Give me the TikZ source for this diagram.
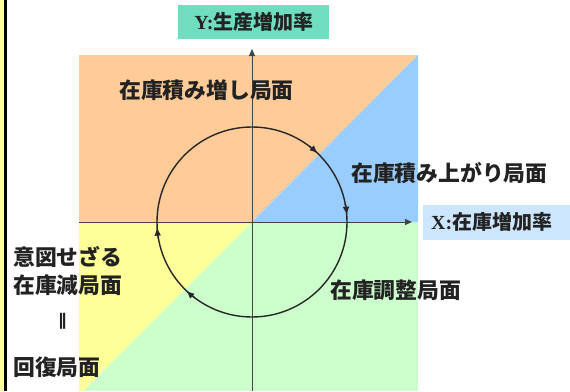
\documentclass[tikz,border=0pt]{standalone}
\usepackage{fontspec}
\setmainfont{Liberation Serif}
\newfontfamily\jp{Noto Sans CJK JP}
\newfontfamily\dv{DejaVu Sans}
\usetikzlibrary{arrows.meta}
\definecolor{qorange}{HTML}{FFCC99}
\definecolor{qblue}{HTML}{99CCFF}
\definecolor{qgreen}{HTML}{CCFFCC}
\definecolor{qyellow}{HTML}{FFFF99}
\definecolor{ylab}{HTML}{6FDDC0}
\definecolor{xlab}{HTML}{CCE6FF}
\definecolor{axisc}{HTML}{444444}
\definecolor{txt}{HTML}{222222}
\tikzset{
  lbl/.style={font=\jp\bfseries\fontsize{21.8}{24}\selectfont, text=txt, inner sep=0pt, anchor=west},
  axislabel/.style={font=\bfseries\fontsize{20}{22}\selectfont, text=txt, inner sep=0pt},
  axisline/.style={draw=axisc, line width=1pt, -{Triangle[length=7pt,width=6pt]}},
  cyc/.style={draw=black!85, line width=1.4pt},
  cycarrow/.style={-{Triangle[length=7pt,width=6pt]}, draw=black!85, line width=1.4pt}
}
\begin{document}
\begin{tikzpicture}[x=1pt,y=-1pt]
\useasboundingbox (0,0) rectangle (570,391);
\fill[white] (0,0) rectangle (570,391);
% left frame
\fill[qyellow] (0,0) rectangle (3.2,391);
\fill[black] (3.5,0) rectangle (6.5,391);
\coordinate (O) at (252,222);
% quadrants
\fill[qorange] (79,55) rectangle (252,222);
\fill[qorange] (252,55) -- (418,55) -- (O) -- cycle;
\fill[qblue] (O) -- (418,55) -- (418,222) -- cycle;
\fill[qgreen] (79,222) rectangle (418,391);
\fill[qyellow] (79,222) -- (O) -- (83,391) -- (79,391) -- cycle;
% axes
\coordinate (xs) at (79,222);
\coordinate (xe) at (412,222);
\coordinate (ys) at (252,391);
\coordinate (ye) at (252,49);
\draw[axisline] (xs) -- (xe);
\draw[axisline] (ys) -- (ye);
% cycle circle
\draw[cyc] (O) circle[radius=95];
\foreach \a in {-47,-5,133,176}{
  \draw[cycarrow] (O) ++(\a-6:95) arc[start angle=\a-6, end angle=\a, radius=95];
}
% axis labels
\fill[ylab] (178,5) rectangle (329,39);
\node[axislabel] (ylabel) at (254,22) {Y:{\jp 生産増加率}};
\fill[xlab] (423,205) rectangle (570,240);
\node[axislabel, anchor=west] (xlabel) at (431,222) {X:{\jp 在庫増加率}};
% phase labels
\node[lbl] (p1) at (119,90) {在庫積み増し局面};
\node[lbl] (p2) at (351,173) {在庫積み上がり局面};
\node[lbl] (p3) at (330,290) {在庫調整局面};
\node[lbl] (p4a) at (13,257) {意図せざる};
\node[lbl] (p4b) at (13,285) {在庫減局面};
\node[font=\dv\bfseries\fontsize{16}{18}\selectfont, text=txt, inner sep=0pt, xscale=1.2] (eq) at (62.5,321.5) {‖};
\node[lbl] (p4c) at (13,367) {回復局面};
\end{tikzpicture}
\end{document}
